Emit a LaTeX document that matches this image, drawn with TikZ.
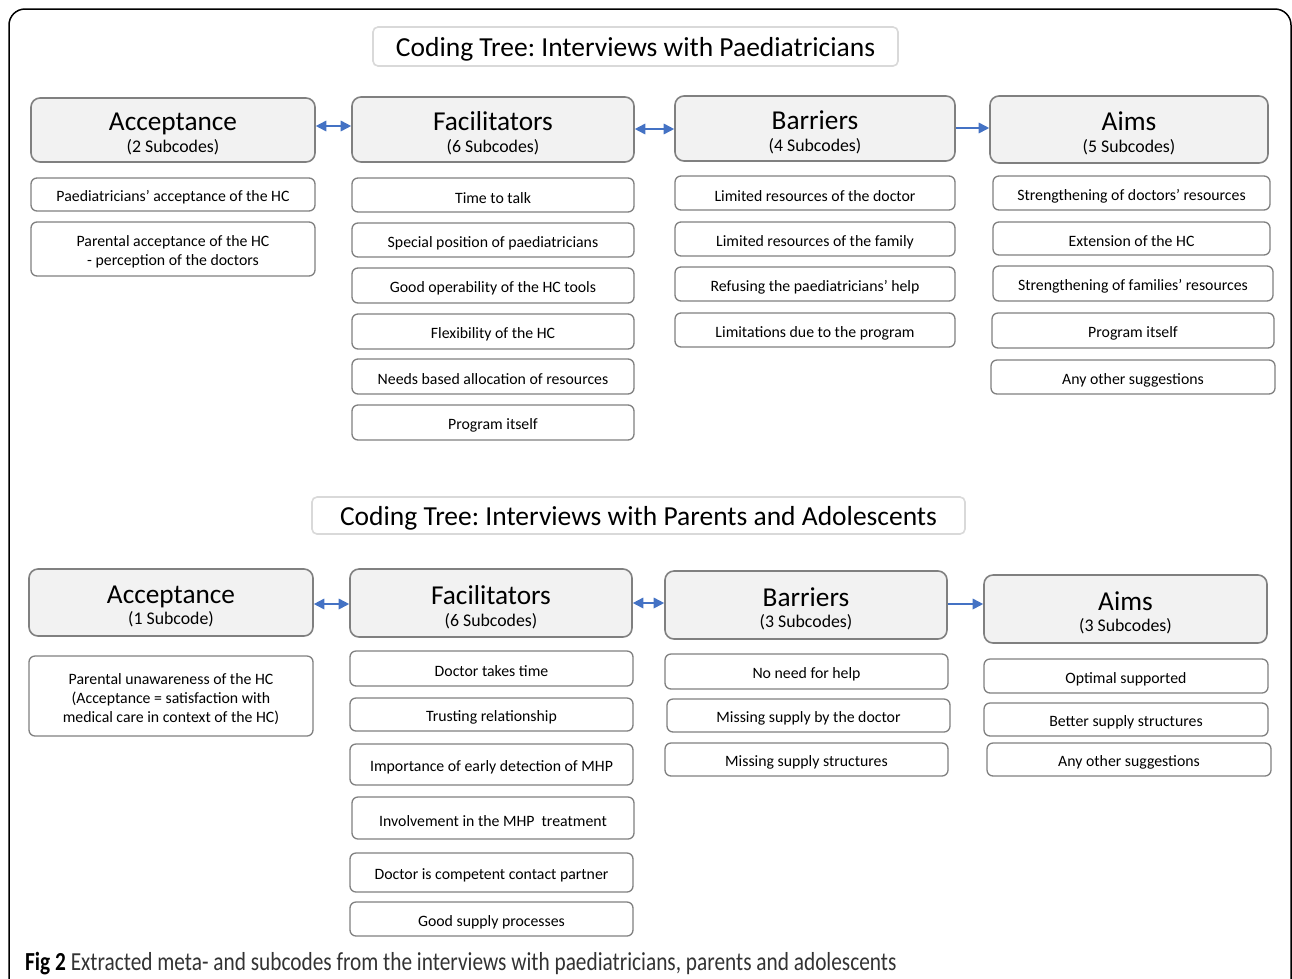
\documentclass[tikz,border=0pt]{standalone}
\usepackage{fontspec}
\setmainfont{Carlito}
\newfontfamily\capfont[FakeStretch=0.82]{Carlito}
\usetikzlibrary{arrows.meta}
\definecolor{hdrfill}{HTML}{F2F2F2}
\definecolor{hdrline}{HTML}{808080}
\definecolor{subline}{HTML}{808080}
\definecolor{ttlline}{HTML}{D9D9D9}
\definecolor{arrowblue}{HTML}{4472C4}
\definecolor{captxt}{HTML}{333333}
% box node (#1) drawn from corners, its text in node (#1t) slightly lowered
\newcommand\cbox[8]{\node[#2, minimum width={(#5-#3)*1pt}, minimum height={(#6-#4)*1pt}] (#1) at ({(#3+#5)/2},{(#4+#6)/2}) {};
  \node[#2, draw=none, fill=none, minimum width=0pt, minimum height=0pt] (#1t) at ([yshift=-#7pt]#1.center) {#8};}
\newcommand\hd[2]{{\fontsize{27.3}{21.5}\selectfont #1}\\{#2}}
\tikzset{
  hdr/.style={draw=hdrline, fill=hdrfill, line width=1.6pt, rounded corners=9pt, inner sep=0pt, align=center, text=black, font=\fontsize{17.8}{21.5}\selectfont},
  subb/.style={draw=subline, fill=white, line width=1.3pt, rounded corners=6pt, inner sep=0pt, align=center, text=black, font=\fontsize{15.8}{19}\selectfont},
  ttl/.style={draw=ttlline, fill=white, line width=1.6pt, rounded corners=5pt, inner sep=0pt, text=black, font=\fontsize{27.5}{30}\selectfont},
  arr/.style={draw=arrowblue, line width=1.7pt, {Triangle[length=10.5pt,width=10.5pt]}-{Triangle[length=10.5pt,width=10.5pt]}},
  arrone/.style={draw=arrowblue, line width=1.7pt, -{Triangle[length=10.5pt,width=10.5pt]}}
}
\begin{document}
\frenchspacing
\begin{tikzpicture}[x=1pt,y=-1pt]
\useasboundingbox[fill=white] (0,0) rectangle (1292,978);
\draw[line width=1.5pt, rounded corners=16pt] (9,1100) -- (9,9) -- (1291,9) -- (1291,1100);
% ---------- top tree
\cbox{t1}{ttl}{373}{27}{898}{66}{3}{Coding Tree: Interviews with Paediatricians}
\cbox{a1}{hdr}{31}{98}{315}{162}{4}{\hd{Acceptance}{(2 Subcodes)}}
\cbox{f1}{hdr}{352}{97}{634}{162}{4}{\hd{Facilitators}{(6 Subcodes)}}
\cbox{b1}{hdr}{675}{96}{955}{161}{4}{\hd{Barriers}{(4 Subcodes)}}
\cbox{m1}{hdr}{990}{96}{1268}{163}{4}{\hd{Aims}{(5 Subcodes)}}
\draw[arr] (a1.east |- 0,126) -- (f1.west |- 0,126);
\draw[arr] (f1.east |- 0,129) -- (b1.west |- 0,129);
\draw[arrone] (b1.east |- 0,128) -- (m1.west |- 0,128);
\cbox{a1s1}{subb}{31}{178}{315}{211}{3}{Paediatricians’ acceptance of the HC}
\cbox{a1s2}{subb}{31}{222}{315}{276}{3}{Parental acceptance of the HC\\- perception of the doctors}
\cbox{f1s1}{subb}{352}{178}{634}{212}{3}{Time to talk}
\cbox{f1s2}{subb}{352}{223}{634}{257}{3}{Special position of paediatricians}
\cbox{f1s3}{subb}{352}{268}{634}{303}{3}{Good operability of the HC tools}
\cbox{f1s4}{subb}{352}{314}{634}{349}{3}{Flexibility of the HC}
\cbox{f1s5}{subb}{352}{359}{634}{394}{3}{Needs based allocation of resources}
\cbox{f1s6}{subb}{352}{405}{634}{440}{3}{Program itself}
\cbox{b1s1}{subb}{675}{176}{955}{210}{3}{Limited resources of the doctor}
\cbox{b1s2}{subb}{675}{222}{955}{256}{3}{Limited resources of the family}
\cbox{b1s3}{subb}{675}{267}{955}{301}{3}{Refusing the paediatricians’ help}
\cbox{b1s4}{subb}{675}{313}{955}{347}{3}{Limitations due to the program}
\cbox{m1s1}{subb}{993}{176}{1270}{210}{3}{Strengthening of doctors’ resources}
\cbox{m1s2}{subb}{993}{222}{1270}{255}{3}{Extension of the HC}
\cbox{m1s3}{subb}{993}{266}{1273}{301}{3}{Strengthening of families’ resources}
\cbox{m1s4}{subb}{992}{313}{1274}{348}{3}{Program itself}
\cbox{m1s5}{subb}{991}{360}{1275}{394}{3}{Any other suggestions}
% ---------- bottom tree
\cbox{t2}{ttl}{312}{497}{965}{534}{3}{Coding Tree: Interviews with Parents and Adolescents}
\cbox{a2}{hdr}{29}{569}{313}{636}{4}{\hd{Acceptance}{(1 Subcode)}}
\cbox{f2}{hdr}{350}{569}{632}{637}{4}{\hd{Facilitators}{(6 Subcodes)}}
\cbox{b2}{hdr}{665}{571}{947}{639}{4}{\hd{Barriers}{(3 Subcodes)}}
\cbox{m2}{hdr}{984}{575}{1267}{643}{4}{\hd{Aims}{(3 Subcodes)}}
\draw[arr] (a2.east |- 0,604) -- (f2.west |- 0,604);
\draw[arr] (f2.east |- 0,603) -- (b2.west |- 0,603);
\draw[arrone] (b2.east |- 0,604) -- (m2.west |- 0,604);
\cbox{a2s1}{subb}{29}{656}{313}{736}{3}{Parental unawareness of the HC\\(Acceptance = satisfaction with\\medical care in context of the HC)}
\cbox{f2s1}{subb}{350}{651}{633}{686}{3}{Doctor takes time}
\cbox{f2s2}{subb}{350}{698}{633}{731}{3}{Trusting relationship}
\cbox{f2s3}{subb}{350}{744}{633}{785}{3}{Importance of early detection of MHP}
\cbox{f2s4}{subb}{352}{797}{634}{839}{3}{Involvement in the MHP\ \ treatment}
\cbox{f2s5}{subb}{350}{853}{633}{892}{3}{Doctor is competent contact partner}
\cbox{f2s6}{subb}{350}{902}{633}{936}{3}{Good supply processes}
\cbox{b2s1}{subb}{665}{654}{948}{689}{3}{No need for help}
\cbox{b2s2}{subb}{667}{699}{950}{732}{3}{Missing supply by the doctor}
\cbox{b2s3}{subb}{665}{743}{948}{776}{3}{Missing supply structures}
\cbox{m2s1}{subb}{984}{659}{1268}{693}{3}{Optimal supported}
\cbox{m2s2}{subb}{984}{703}{1268}{736}{3}{Better supply structures}
\cbox{m2s3}{subb}{987}{743}{1271}{776}{3}{Any other suggestions}
% ---------- caption
\node[anchor=base west, inner sep=0pt] (cap) at (25,970) {\capfont\fontsize{26}{28}\selectfont\textbf{Fig 2} \color{captxt}Extracted meta- and subcodes from the interviews with paediatricians, parents and adolescents};
\end{tikzpicture}
\end{document}
